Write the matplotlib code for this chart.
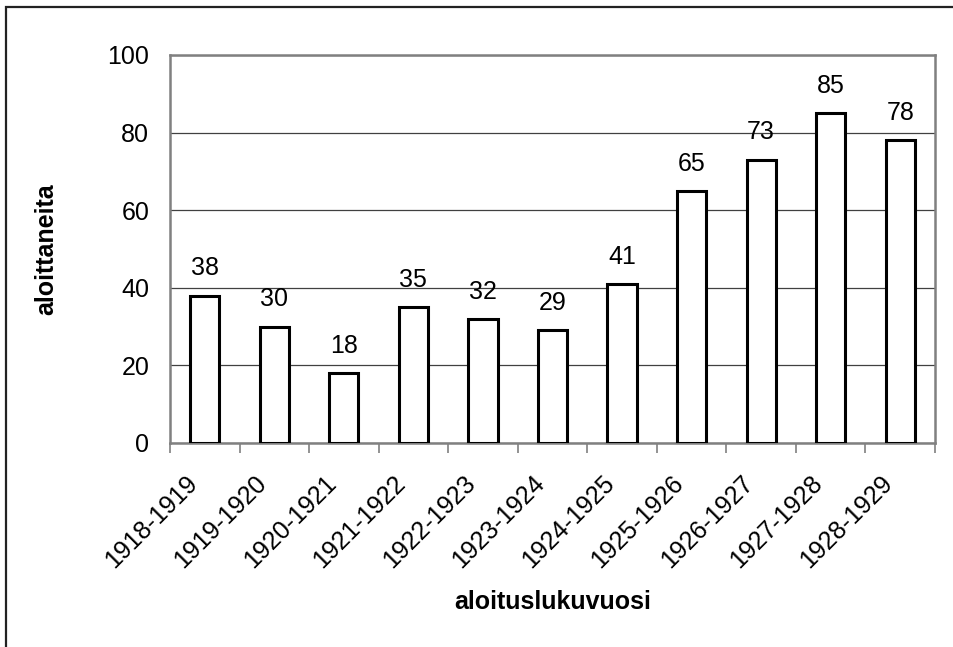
import numpy as np
import matplotlib.pyplot as plt
import matplotlib.transforms as mtransforms
from matplotlib.patches import Rectangle

plt.rcParams['font.family'] = ['Liberation Sans', 'DejaVu Sans']

vuodet = ['1918-1919', '1919-1920', '1920-1921', '1921-1922', '1922-1923', '1923-1924',
          '1924-1925', '1925-1926', '1926-1927', '1927-1928', '1928-1929']
aloittaneita = [38, 30, 18, 35, 32, 29, 41, 65, 73, 85, 78]

fig = plt.figure(figsize=(9.54, 6.47), dpi=100)
ax = fig.add_axes([170/954, 1-443/647, (935-170)/954, (443-55)/647])

# kehys koko kuvan ympärillä (vain vasen ja ylä näkyvät)
fig.patches.append(Rectangle((6/954, -0.1), 1.2, 1-7/647+0.1, transform=fig.transFigure,
                             fill=False, edgecolor='#222222', linewidth=1.6))

x = np.arange(len(vuodet))
ax.bar(x, aloittaneita, width=0.42, color='white', edgecolor='black', linewidth=2.2, zorder=3)
for xi, v in zip(x, aloittaneita):
    ax.annotate(str(v), (xi, v), xytext=(0, 11), textcoords='offset points',
                ha='center', va='bottom', fontsize=18)

ax.set_xlim(-0.5, len(vuodet) - 0.5)
ax.set_ylim(0, 100)
ax.set_yticks(range(0, 101, 20))
ax.yaxis.grid(True, color='#404040', linewidth=0.9)
ax.set_axisbelow(True)
for s in ax.spines.values():
    s.set_color('#808080')
    s.set_linewidth(1.8)

ax.set_xticks(np.arange(-0.5, len(vuodet), 1))
ax.set_xticklabels([])
ax.set_xticks(x, minor=True)
ax.set_xticklabels(vuodet, minor=True, rotation=45, ha='right', rotation_mode='anchor', fontsize=18)
ax.tick_params(axis='x', which='major', direction='out', length=7, color='#808080', width=1.2)
ax.tick_params(axis='x', which='minor', length=0, pad=24)
ax.tick_params(axis='y', length=0, labelsize=18, pad=15)

# siirretään vinot nimikkeet hieman vasemmalle ja ylös
siirto = mtransforms.ScaledTranslation(-20/100, 5/100, fig.dpi_scale_trans)
for lbl in ax.get_xticklabels(minor=True):
    lbl.set_transform(lbl.get_transform() + siirto)

ax.set_ylabel('aloittaneita', fontsize=18, fontweight='bold', labelpad=35)
ax.set_xlabel('aloituslukuvuosi', fontsize=18, fontweight='bold', labelpad=12)

fig.savefig('out.png', dpi=100)
